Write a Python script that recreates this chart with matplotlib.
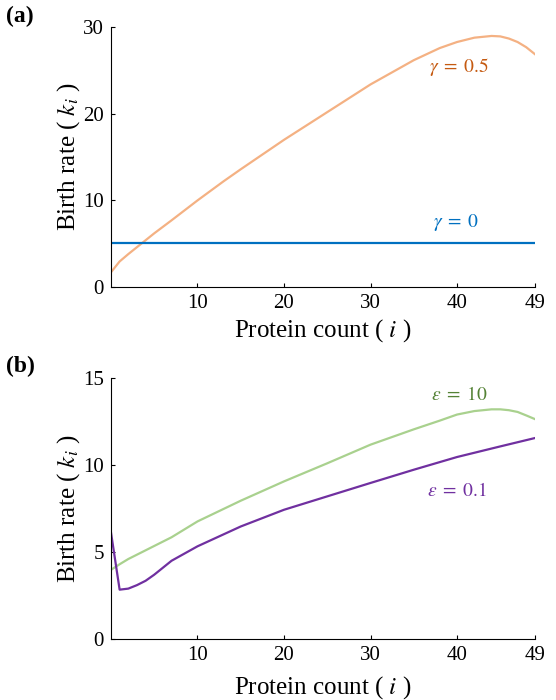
import matplotlib
matplotlib.use('Agg')
import matplotlib.pyplot as plt

plt.rcParams['font.family'] = ['Liberation Serif', 'DejaVu Serif']
plt.rcParams['mathtext.fontset'] = 'stix'

# panel (a): birth rate vs protein count
x_g05 = [0, 1, 2, 3, 4, 5, 7, 10, 13, 15, 20, 25, 30, 35, 38, 40, 42, 44, 45, 46, 47, 48, 49]
y_g05 = [1.7, 2.95, 3.8, 4.6, 5.4, 6.2, 7.7, 10.0, 12.2, 13.6, 17.0, 20.2, 23.4, 26.2, 27.6, 28.3, 28.8, 29.0, 28.95, 28.7, 28.3, 27.7, 26.9]
x_g0 = [0, 49]
y_g0 = [5.1, 5.1]

# panel (b)
x_e10 = [0, 1, 2, 3, 5, 7, 10, 15, 20, 25, 30, 35, 38, 40, 42, 44, 45, 46, 47, 48, 49]
y_e10 = [3.98, 4.3, 4.6, 4.85, 5.35, 5.85, 6.76, 7.95, 9.06, 10.1, 11.17, 12.05, 12.55, 12.9, 13.1, 13.2, 13.2, 13.15, 13.05, 12.85, 12.64]
x_e01 = [0, 1, 2, 3, 4, 5, 7, 10, 15, 20, 25, 30, 35, 40, 45, 49]
y_e01 = [6.13, 2.84, 2.9, 3.1, 3.35, 3.7, 4.5, 5.33, 6.47, 7.43, 8.2, 8.97, 9.73, 10.46, 11.07, 11.55]

xticks = [10, 20, 30, 40, 49]

fig = plt.figure(figsize=(5.56, 7), dpi=100)
ax1 = fig.add_axes([0.1996, 0.59, 0.7624, 0.371])
ax2 = fig.add_axes([0.1996, 0.087, 0.7624, 0.373])

ax1.plot(x_g05, y_g05, color='#F4B183', lw=1.6)
ax1.plot(x_g0, y_g0, color='#0070C0', lw=1.6)
ax1.text(40.2, 25.4, r'$\gamma\;=\;0.5$', color='#C55A11', fontsize=14, ha='center', va='center')
ax1.text(39.9, 7.4, r'$\gamma\;=\;0$', color='#0070C0', fontsize=14, ha='center', va='center')
ax1.set_ylim(0, 30)
ax1.set_yticks([0, 10, 20, 30])

ax2.plot(x_e10, y_e10, color='#A9D18E', lw=1.6)
ax2.plot(x_e01, y_e01, color='#7030A0', lw=1.6)
ax2.text(40.3, 14.0, r'$\varepsilon\;=\;10$', color='#548235', fontsize=14, ha='center', va='center')
ax2.text(40.0, 8.5, r'$\varepsilon\;=\;0.1$', color='#7030A0', fontsize=14, ha='center', va='center')
ax2.set_ylim(0, 15)
ax2.set_yticks([0, 5, 10, 15])

for ax in (ax1, ax2):
    ax.set_xlim(0, 49)
    ax.set_xticks(xticks)
    ax.spines['top'].set_visible(False)
    ax.spines['right'].set_visible(False)
    ax.tick_params(direction='in', length=3, labelsize=15, pad=5)
    ax.set_ylabel(r'Birth rate ( $k_i$ )', fontsize=18)
    ax.set_xlabel(r'Protein count ( $i$ )', fontsize=18)
    ax.yaxis.set_label_coords(-0.068, 0.5)

ax1.xaxis.set_label_coords(0.5, -0.115)
ax2.xaxis.set_label_coords(0.5, -0.133)

fig.text(0.01, 0.976, '(a)', fontsize=17, fontweight='bold', va='center')
fig.text(0.01, 0.476, '(b)', fontsize=17, fontweight='bold', va='center')

fig.savefig('out.png', dpi=100)
